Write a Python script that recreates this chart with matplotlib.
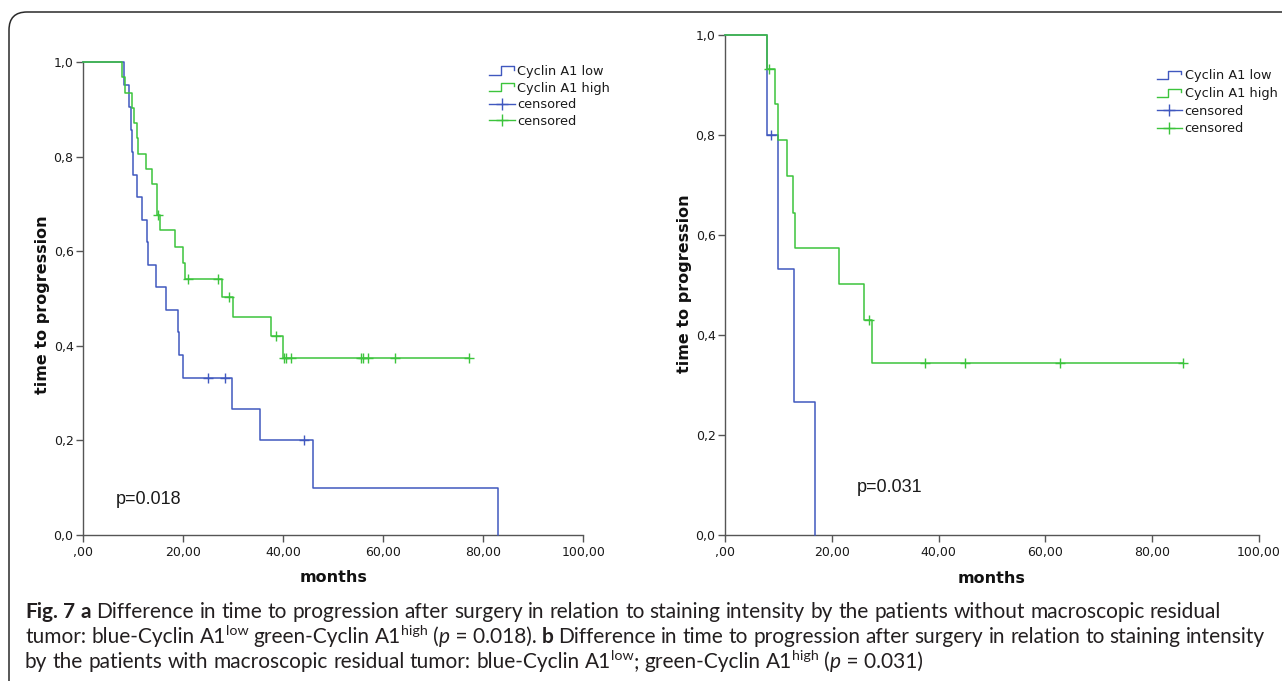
import matplotlib
matplotlib.use("Agg")
import matplotlib.pyplot as plt
from matplotlib.lines import Line2D
from matplotlib.legend_handler import HandlerBase
from matplotlib.patches import FancyBboxPatch
from matplotlib.transforms import IdentityTransform

# ---------------- data ----------------
x_ticks = [0, 20, 40, 60, 80, 100]
x_tick_labels = [",00", "20,00", "40,00", "60,00", "80,00", "100,00"]
y_ticks = [0.0, 0.2, 0.4, 0.6, 0.8, 1.0]
y_tick_labels = ["0,0", "0,2", "0,4", "0,6", "0,8", "1,0"]
series_labels = ["Cyclin A1 low", "Cyclin A1 high", "censored", "censored"]

# panel a : without macroscopic residual tumor
a_low_t = [0, 8.1, 9.2, 9.5, 9.7, 10.0, 10.8, 11.7, 12.7, 12.9, 14.5, 16.5,
           18.9, 19.1, 20.0, 29.7, 35.4, 45.9, 83.0]
a_low_s = [1.0, 0.952, 0.905, 0.857, 0.810, 0.762, 0.714, 0.667, 0.619, 0.571,
           0.524, 0.476, 0.429, 0.381, 0.333, 0.267, 0.200, 0.100, 0.0]
a_low_cens_t = [24.9, 28.3, 44.1]
a_low_cens_s = [0.333, 0.333, 0.200]

a_high_t = [0, 7.7, 8.3, 9.8, 10.2, 10.7, 10.9, 12.5, 13.7, 14.7, 14.8, 15.3,
            18.3, 20.0, 20.3, 27.8, 30.0, 37.5, 40.0, 77.2]
a_high_s = [1.0, 0.968, 0.936, 0.903, 0.871, 0.839, 0.807, 0.775, 0.742, 0.710,
            0.677, 0.645, 0.609, 0.575, 0.541, 0.503, 0.462, 0.420, 0.374, 0.374]
a_high_cens_t = [14.9, 20.9, 27.0, 29.1, 38.5, 40.2, 40.6, 41.5, 55.5, 55.9,
                 57.0, 62.3, 77.2]
a_high_cens_s = [0.677, 0.541, 0.541, 0.503, 0.420, 0.374, 0.374, 0.374, 0.374,
                 0.374, 0.374, 0.374, 0.374]
a_pvalue = "p=0.018"

# panel b : with macroscopic residual tumor
b_low_t = [0, 7.8, 9.9, 12.9, 16.8]
b_low_s = [1.0, 0.800, 0.533, 0.267, 0.0]
b_low_cens_t = [8.6]
b_low_cens_s = [0.800]

b_high_t = [0, 7.9, 9.4, 9.9, 11.6, 12.6, 13.1, 21.3, 26.0, 27.5, 85.8]
b_high_s = [1.0, 0.933, 0.862, 0.790, 0.719, 0.645, 0.575, 0.503, 0.431, 0.345, 0.345]
b_high_cens_t = [8.2, 26.9, 37.5, 44.9, 62.7, 85.8]
b_high_cens_s = [0.933, 0.431, 0.345, 0.345, 0.345, 0.345]
b_pvalue = "p=0.031"

x_label = "months"
y_label = "time to progression"

caption_lines = [
    [[("Fig.", "b")], [("7", "b")], [("a", "b")], [("Difference", "r")], [("in", "r")],
     [("time", "r")], [("to", "r")], [("progression", "r")], [("after", "r")],
     [("surgery", "r")], [("in", "r")], [("relation", "r")], [("to", "r")],
     [("staining", "r")], [("intensity", "r")], [("by", "r")], [("the", "r")],
     [("patients", "r")], [("without", "r")], [("macroscopic", "r")], [("residual", "r")]],
    [[("tumor:", "r")], [("blue-Cyclin", "r")], [("A1", "r"), ("low", "s")],
     [("green-Cyclin", "r")], [("A1", "r"), ("high", "s")],
     [("(", "r"), ("p", "i"), (" = 0.018).", "r")], [("b", "b")], [("Difference", "r")],
     [("in", "r")], [("time", "r")], [("to", "r")], [("progression", "r")],
     [("after", "r")], [("surgery", "r")], [("in", "r")], [("relation", "r")],
     [("to", "r")], [("staining", "r")], [("intensity", "r")]],
    [[("by", "r")], [("the", "r")], [("patients", "r")], [("with", "r")],
     [("macroscopic", "r")], [("residual", "r")], [("tumor:", "r")],
     [("blue-Cyclin", "r")], [("A1", "r"), ("low", "s"), (";", "r")],
     [("green-Cyclin", "r")], [("A1", "r"), ("high", "s")],
     [("(", "r"), ("p", "i"), (" = 0.031)", "r")]],
]
caption_justify = [False, True, False]

# ---------------- styling ----------------
W, H, DPI = 1282, 681, 100
BLUE = "#4058bf"
GREEN = "#3cc43c"
AXC = "#555555"
TXT = "#1a1a1a"

plt.rcParams["font.family"] = ["DejaVu Sans"]

fig = plt.figure(figsize=(W / DPI, H / DPI), dpi=DPI, facecolor="white")


def px_axes(x0, y_top, x1, y_bot):
    return [x0 / W, (H - y_bot) / H, (x1 - x0) / W, (y_bot - y_top) / H]


ax_a = fig.add_axes(px_axes(83.3, 62.3, 583.3, 535))
ax_b = fig.add_axes(px_axes(725.3, 35, 1258.9, 535))


class StepLine(Line2D):
    pass


class HandlerStep(HandlerBase):
    def create_artists(self, legend, orig_handle, xdescent, ydescent, width,
                       height, fontsize, trans):
        x0, y0 = -xdescent, -ydescent
        xs = [x0, x0 + 0.45 * width, x0 + 0.45 * width, x0 + 0.95 * width, x0 + 0.95 * width]
        ys = [y0 + 0.05 * height, y0 + 0.05 * height, y0 + 0.95 * height,
              y0 + 0.95 * height, y0 + 0.6 * height]
        ln = Line2D(xs, ys, color=orig_handle.get_color(), lw=1.0)
        ln.set_transform(trans)
        return [ln]


def draw_panel(ax, lt, ls, lct, lcs, ht, hs, hct, hcs, ptxt, pxy, leg_xy,
               ylab_xy, xlab_xy, handlelen, textpad, labsp):
    ax.set_xlim(0, 100)
    ax.set_ylim(0, 1)
    for s in ("top", "right"):
        ax.spines[s].set_visible(False)
    for s in ("left", "bottom"):
        ax.spines[s].set_color(AXC)
        ax.spines[s].set_linewidth(1.0)
    ax.set_xticks(x_ticks)
    ax.set_xticklabels(x_tick_labels)
    ax.set_yticks(y_ticks)
    ax.set_yticklabels(y_tick_labels)
    ax.tick_params(direction="out", length=5, width=1, color=AXC,
                   labelsize=9, labelcolor=TXT, pad=2)
    ax.tick_params(axis="x", pad=3)

    ax.step(lt, ls, where="post", color=BLUE, lw=1.1, clip_on=False, zorder=3)
    ax.step(ht, hs, where="post", color=GREEN, lw=1.1, clip_on=False, zorder=3)
    ax.plot(lct, lcs, ls="none", marker="+", ms=7, mew=1.0, color=BLUE,
            clip_on=False, zorder=4)
    ax.plot(hct, hcs, ls="none", marker="+", ms=7, mew=1.0, color=GREEN,
            clip_on=False, zorder=4)

    ax.text(pxy[0], pxy[1], ptxt, fontsize=13, family=["Liberation Sans", "DejaVu Sans"],
            color=TXT, ha="left", va="center")

    ax.set_ylabel(y_label, fontsize=11.5, fontweight="bold", color="#111111")
    ax.yaxis.set_label_coords(*ylab_xy)
    ax.set_xlabel(x_label, fontsize=11.5, fontweight="bold", color="#111111")
    ax.xaxis.set_label_coords(*xlab_xy)

    handles = [StepLine([], [], color=BLUE), StepLine([], [], color=GREEN),
               Line2D([], [], color=BLUE, lw=1.0, marker="+", ms=9, mew=1.0),
               Line2D([], [], color=GREEN, lw=1.0, marker="+", ms=9, mew=1.0)]
    fig.legend(handles, series_labels, handler_map={StepLine: HandlerStep()},
               loc="upper left", bbox_to_anchor=(leg_xy[0] / W, 1 - leg_xy[1] / H),
               bbox_transform=fig.transFigure, frameon=False, borderpad=0,
               borderaxespad=0, handlelength=handlelen, handleheight=0.7,
               handletextpad=textpad, labelspacing=labsp,
               prop={"family": "DejaVu Sans", "size": 9.3}, labelcolor=TXT)


draw_panel(ax_a, a_low_t, a_low_s, a_low_cens_t, a_low_cens_s,
           a_high_t, a_high_s, a_high_cens_t, a_high_cens_s,
           a_pvalue, (6.5, 0.076), (489, 65),
           (-0.0666, 0.487), (0.501, -0.075), 2.0, 0.15, 0.28)
draw_panel(ax_b, b_low_t, b_low_s, b_low_cens_t, b_low_cens_s,
           b_high_t, b_high_s, b_high_cens_t, b_high_cens_s,
           b_pvalue, (24.7, 0.096), (1156.7, 69.5),
           (-0.0624, 0.502), (0.499, -0.072), 1.95, 0.22, 0.36)

# ---------------- frame ----------------
frame = FancyBboxPatch((9, -40), 1400, H - 12 + 40, boxstyle="round,pad=0,rounding_size=18",
                       transform=IdentityTransform(), facecolor="none",
                       edgecolor="#2a2a2a", lw=1.1)
fig.add_artist(frame)

# ---------------- caption ----------------
renderer = fig.canvas.get_renderer()
CAP_FONT = ["Lato", "DejaVu Sans"]
CAP_COLOR = "#231f20"


def make_run(x, yb, s, style, size, draw=True):
    kw = dict(family=CAP_FONT, color=CAP_COLOR, ha="left", va="baseline",
              transform=IdentityTransform())
    fs = size
    y = yb
    if style == "b":
        kw["fontweight"] = "bold"
    elif style == "i":
        kw["fontstyle"] = "italic"
    elif style == "s":
        fs = size * 0.68
        y = yb + 0.36 * size * DPI / 72
    t = fig.text(x, y, s, fontsize=fs, **kw)
    w = t.get_window_extent(renderer).width
    if not draw:
        t.remove()
    return w


def word_width(word, size):
    return sum(make_run(0, 0, s, st, size, draw=False) for s, st in word)


def space_width(size):
    return (make_run(0, 0, "n n", "r", size, draw=False)
            - make_run(0, 0, "nn", "r", size, draw=False))


base = 11.0
nat = sum(word_width(w, base) for w in caption_lines[0]) + space_width(base) * (len(caption_lines[0]) - 1)
cap_size = base * (1222 - 25) / nat

x_left, x_right = 25, 1265
baselines = [618, 643, 668]
sp = space_width(cap_size)
for line, just, yb_img in zip(caption_lines, caption_justify, baselines):
    widths = [word_width(w, cap_size) for w in line]
    gap = sp
    if just:
        gap = (x_right - x_left - sum(widths)) / (len(line) - 1)
    x = x_left
    yb = H - yb_img
    for word, ww in zip(line, widths):
        xx = x
        for s, st in word:
            xx += make_run(xx, yb, s, st, cap_size)
        x += ww + gap

fig.savefig("out.png", dpi=DPI, facecolor="white")
